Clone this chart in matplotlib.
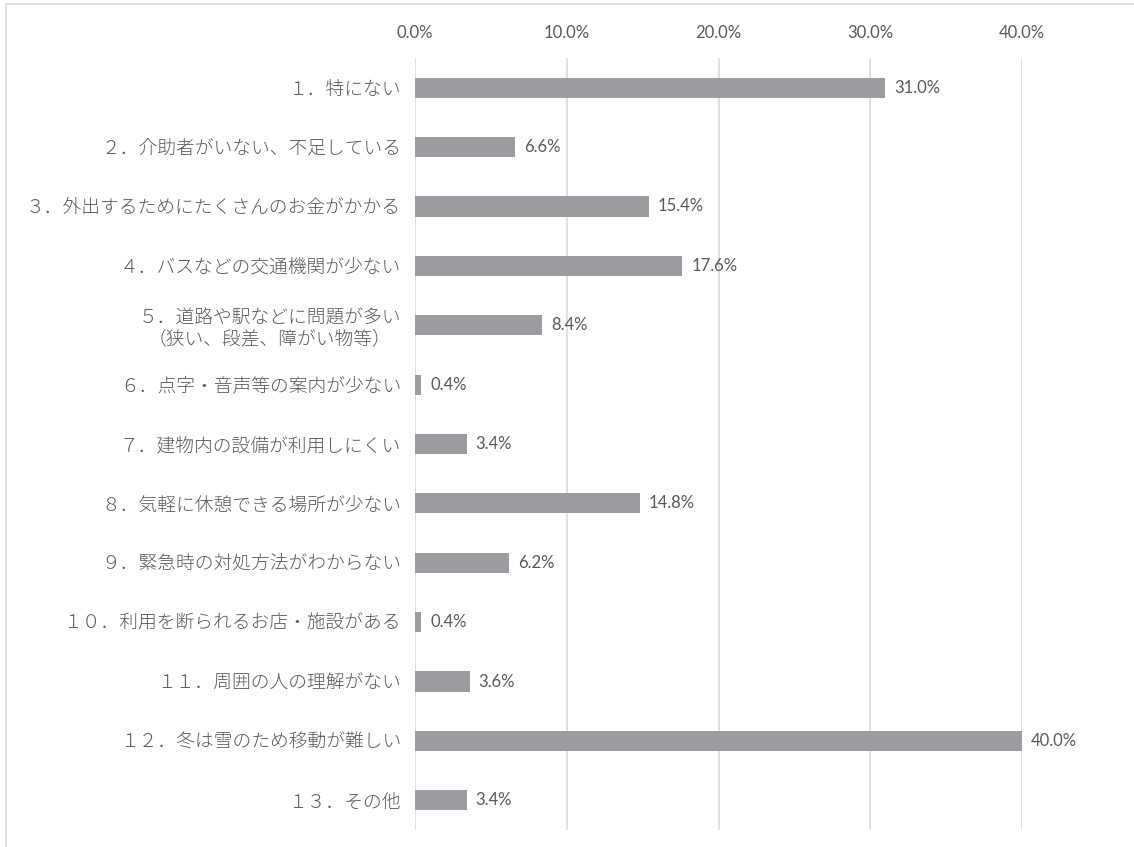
import matplotlib
matplotlib.use("Agg")
import matplotlib.pyplot as plt
from matplotlib.patches import Rectangle
from matplotlib.ticker import FuncFormatter, MultipleLocator

plt.rcParams['font.family'] = ['Noto Sans CJK JP', 'DejaVu Sans']

categories = [
    "１．特にない",
    "２．介助者がいない、不足している",
    "３．外出するためにたくさんのお金がかかる",
    "４．バスなどの交通機関が少ない",
    "５．道路や駅などに問題が多い\n（狭い、段差、障がい物等）",
    "６．点字・音声等の案内が少ない",
    "７．建物内の設備が利用しにくい",
    "８．気軽に休憩できる場所が少ない",
    "９．緊急時の対処方法がわからない",
    "１０．利用を断られるお店・施設がある",
    "１１．周囲の人の理解がない",
    "１２．冬は雪のため移動が難しい",
    "１３．その他",
]
values = [31.0, 6.6, 15.4, 17.6, 8.4, 0.4, 3.4, 14.8, 6.2, 0.4, 3.6, 40.0, 3.4]

text_color = "#595959"
bar_color = "#9b9c9f"
grid_color = "#d9d9d9"
num_font = ['Lato', 'Open Sans', 'DejaVu Sans']

fig = plt.figure(figsize=(11.34, 8.47), dpi=100)
ax = fig.add_axes([415 / 1134, 1 - 830 / 847, (1022 - 415) / 1134, (830 - 58) / 847])

# outer chart frame
fig.patches.append(Rectangle((6 / 1134, -0.1), 1.2, 1 - 4 / 847 + 0.1,
                             transform=fig.transFigure, fill=False,
                             edgecolor=grid_color, linewidth=1.2))

y = list(range(len(categories)))
bars = ax.barh(y, values, height=0.34, color=bar_color, zorder=3)

for yi, v in zip(y, values):
    ax.annotate(f"{v:.1f}%", xy=(v, yi), xytext=(6.5, 0), textcoords="offset points",
                ha="left", va="center", fontsize=12, color=text_color,
                family=num_font, annotation_clip=False)

ax.set_xlim(0, 40)
ax.set_ylim(len(categories) - 0.5, -0.5)
ax.xaxis.set_major_locator(MultipleLocator(10))
ax.xaxis.set_major_formatter(FuncFormatter(lambda x, _: f"{x:.1f}%"))
ax.xaxis.tick_top()
ax.tick_params(axis="x", length=0, pad=12.5, labelsize=12, labelcolor=text_color)
for lab in ax.get_xticklabels():
    lab.set_family(num_font)

ax.set_yticks(y)
ax.set_yticklabels(categories, fontsize=13.5, color=text_color, fontweight="light",
                   multialignment="center", linespacing=1.25)
ax.tick_params(axis="y", length=0, pad=10)

ax.grid(axis="x", color=grid_color, linewidth=1.2, zorder=0)
for s in ax.spines.values():
    s.set_visible(False)

fig.savefig("out.png", dpi=100, facecolor="white")
